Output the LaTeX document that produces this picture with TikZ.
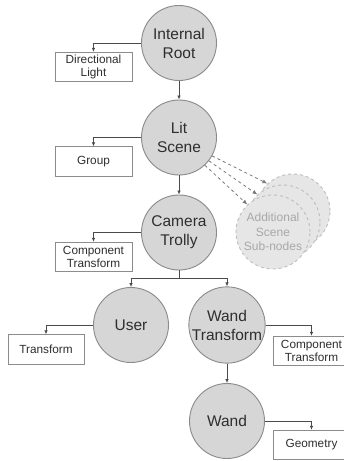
\documentclass[tikz,border=0pt]{standalone}
\usepackage{fontspec}
\setmainfont{Liberation Sans}
\usetikzlibrary{arrows.meta}
\definecolor{circfill}{HTML}{D6D6D6}
\definecolor{circline}{HTML}{8A8A8A}
\definecolor{txt}{HTML}{2E2E2E}
\definecolor{boxline}{HTML}{8C8C8C}
\definecolor{linec}{HTML}{4A4A4A}
\definecolor{ghostfill}{HTML}{E6E6E6}
\definecolor{ghostline}{HTML}{BDBDBD}
\definecolor{ghosttxt}{HTML}{A8A8A8}
\definecolor{dashc}{HTML}{7A7A7A}
\tikzset{
  bignode/.style={circle, draw=circline, line width=0.9pt, fill=circfill, minimum size=75pt, inner sep=0pt,
    align=center, text=txt, font=\fontsize{15.5}{19}\selectfont},
  ghost/.style={circle, draw=ghostline, dashed, line width=0.9pt, fill=ghostfill, minimum size=74pt, inner sep=0pt,
    align=center, text=ghosttxt, font=\fontsize{12}{14.5}\selectfont},
  leafbox/.style={rectangle, draw=boxline, line width=0.8pt, fill=white, minimum width=77pt, minimum height=29.5pt,
    inner sep=0pt, align=center, text=txt, font=\fontsize{11.8}{13}\selectfont},
  conn/.style={draw=linec, line width=0.7pt, -{Latex[length=4pt,width=3.5pt]}},
  dconn/.style={draw=dashc, dashed, line width=0.8pt, -{Latex[length=5pt,width=4pt]}}
}
\begin{document}
\begin{tikzpicture}[x=1pt,y=-1pt]
\useasboundingbox (0,0) rectangle (344,461);
\clip (0,0) rectangle (344,461);
\fill[white] (0,0) rectangle (344,461);
% ghost sub-nodes
\node[ghost] (g3) at (293,211) {};
\node[ghost] (g2) at (283,222) {};
\node[ghost] (g1) at (273,232) {Additional\\Scene\\Sub-nodes};
% main circles
\node[bignode] (ir) at (179,43) {Internal\\Root};
\node[bignode] (ls) at (179,137.5) {Lit\\Scene};
\node[bignode] (ct) at (179,232.5) {Camera\\Trolly};
\node[bignode] (us) at (131,325) {User};
\node[bignode] (wt) at (227,325) {Wand\\Transform};
\node[bignode] (wd) at (227,421) {Wand};
% leaf boxes
\node[leafbox] (dl) at (93.5,67) {Directional\\Light};
\node[leafbox] (gr) at (93.5,161.5) {Group};
\node[leafbox] (ctl) at (93.5,257) {Component\\Transform};
\node[leafbox, minimum width=76pt] (tr) at (46,349.5) {Transform};
\node[leafbox] (ctr) at (311.5,351) {Component\\Transform};
\node[leafbox] (geo) at (311.5,445) {Geometry};
% main connectors
\draw[conn] (ir.south) -- (ls.north);
\draw[conn] (ls.south) -- (ct.north);
\coordinate (br) at (179,278);
\draw[draw=linec, line width=0.7pt] (ct.south) -- (br);
\draw[conn] (br) -| (us.north);
\draw[conn] (br) -| (wt.north);
\draw[conn] (wt.south) -- (wd.north);
% side connectors
\draw[conn] (ir.west) -| (dl.north);
\draw[conn] (ls.west) -| (gr.north);
\draw[conn] (ct.west) -| (ctl.north);
\draw[conn] (us.west) -| (tr.north);
\draw[conn] (wt.east) -| (ctr.north);
\draw[conn] (wd.east) -| (geo.north);
% dashed connectors
\draw[dconn] (ls.-29) -- (g3.133);
\draw[dconn] (ls.-38) -- (g2.133);
\draw[dconn] (ls.-47) -- (g1.133);
\end{tikzpicture}
\end{document}
